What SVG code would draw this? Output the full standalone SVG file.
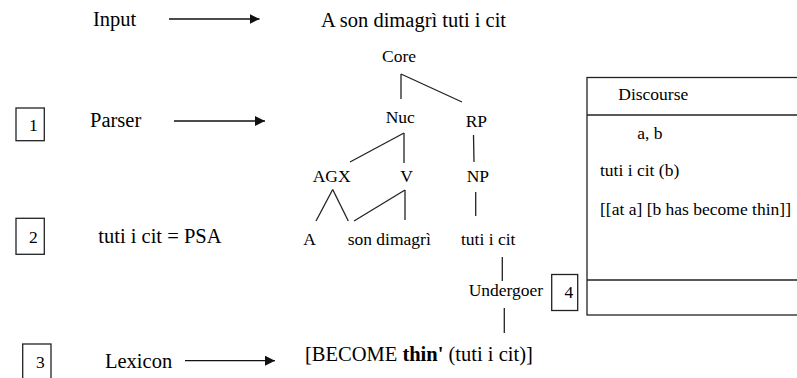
<svg xmlns="http://www.w3.org/2000/svg" width="797" height="378" viewBox="0 0 797 378" font-family="'Liberation Serif', 'Times New Roman', serif">
<style>
text{font-family:"Liberation Serif","Times New Roman",serif;fill:#000}
.big{font-size:20.5px}
.sm{font-size:17.5px}
.ln{stroke:#222;stroke-width:1.3;fill:none}
.box{stroke:#222;stroke-width:1.3;fill:#fff}
.ar{stroke:#111;stroke-width:1.3;fill:none;marker-end:url(#ah)}
</style>
<defs>
<marker id="ah" markerUnits="userSpaceOnUse" markerWidth="12" markerHeight="12" refX="10" refY="5" orient="auto">
<path d="M0,0 L10,5 L0,10 Z" fill="#111"/>
</marker>
</defs>
<rect width="797" height="378" fill="#fff"/>

<g id="discourse">
<rect class="box" x="587" y="77.5" width="220" height="237.5"/>
<line class="ln" x1="587" y1="115" x2="797" y2="115"/>
<line class="ln" x1="587" y1="280" x2="797" y2="280"/>
<text class="sm" x="618.3" y="100">Discourse</text>
<text class="sm" x="637.3" y="139.3">a, b</text>
<text class="sm" x="600" y="176">tuti i cit (b)</text>
<text class="sm" x="600" y="215">[[at a] [b has become thin]]</text>
</g>

<g id="step-labels">
<g id="box1"><rect class="box" x="16" y="108" width="28.3" height="32.7"/><text class="sm" x="29" y="131">1</text></g>
<g id="box2"><rect class="box" x="16" y="218.3" width="28.3" height="36"/><text class="sm" x="29" y="243.3">2</text></g>
<g id="box3"><rect class="box" x="22.7" y="344" width="28.3" height="40"/><text class="sm" x="36" y="368.3">3</text></g>
<g id="box4"><rect class="box" x="551.7" y="274.5" width="26" height="36"/><text class="sm" x="564.5" y="298">4</text></g>
</g>

<g id="input"><text class="big" x="93" y="26">Input</text></g>
<g id="parser"><text class="big" x="90" y="127.3">Parser</text></g>
<g id="psa"><text class="big" x="98.3" y="243.3">tuti i cit = PSA</text></g>
<g id="lexicon"><text class="big" x="105" y="368.3">Lexicon</text></g>
<g id="sentence"><text class="big" x="321" y="27">A son dimagrì tuti i cit</text></g>
<g id="lexrep"><text class="big" x="305" y="360.7">[BECOME <tspan font-weight="bold">thin'</tspan> (tuti i cit)]</text></g>

<g id="core"><text class="sm" x="382" y="62">Core</text></g>
<g id="nuc"><text class="sm" x="385.7" y="122.7">Nuc</text></g>
<g id="rp"><text class="sm" x="465.7" y="126.7">RP</text></g>
<g id="agx"><text class="sm" x="312.7" y="181.7">AGX</text></g>
<g id="v"><text class="sm" x="400.3" y="181.7">V</text></g>
<g id="np"><text class="sm" x="466.7" y="182">NP</text></g>
<g id="a"><text class="sm" x="303.3" y="245">A</text></g>
<g id="sondimagri"><text class="sm" x="347.7" y="245">son dimagrì</text></g>
<g id="tuticit"><text class="sm" x="461" y="245">tuti i cit</text></g>
<g id="undergoer"><text class="sm" x="468.7" y="296">Undergoer</text></g>

<g id="connectors">
<line class="ar" x1="169" y1="19" x2="259.5" y2="19"/>
<line class="ar" x1="174" y1="121" x2="265" y2="121"/>
<line class="ar" x1="185" y1="360.7" x2="275" y2="360.7"/>
<line class="ln" x1="401" y1="74" x2="401" y2="99"/>
<line class="ln" x1="401" y1="74" x2="462" y2="102"/>
<line class="ln" x1="404" y1="133" x2="350" y2="162"/>
<line class="ln" x1="404" y1="133" x2="404" y2="163"/>
<line class="ln" x1="473.5" y1="135" x2="474" y2="162"/>
<line class="ln" x1="316" y1="221" x2="332.7" y2="189.5"/>
<line class="ln" x1="332.7" y1="189.5" x2="348.3" y2="221"/>
<line class="ln" x1="354" y1="221" x2="405" y2="190"/>
<line class="ln" x1="405" y1="190" x2="405" y2="220"/>
<line class="ln" x1="475.7" y1="192" x2="475.7" y2="216"/>
<line class="ln" x1="502.3" y1="257" x2="502.3" y2="281"/>
<line class="ln" x1="504.3" y1="308" x2="504.3" y2="333"/>
</g>
</svg>
